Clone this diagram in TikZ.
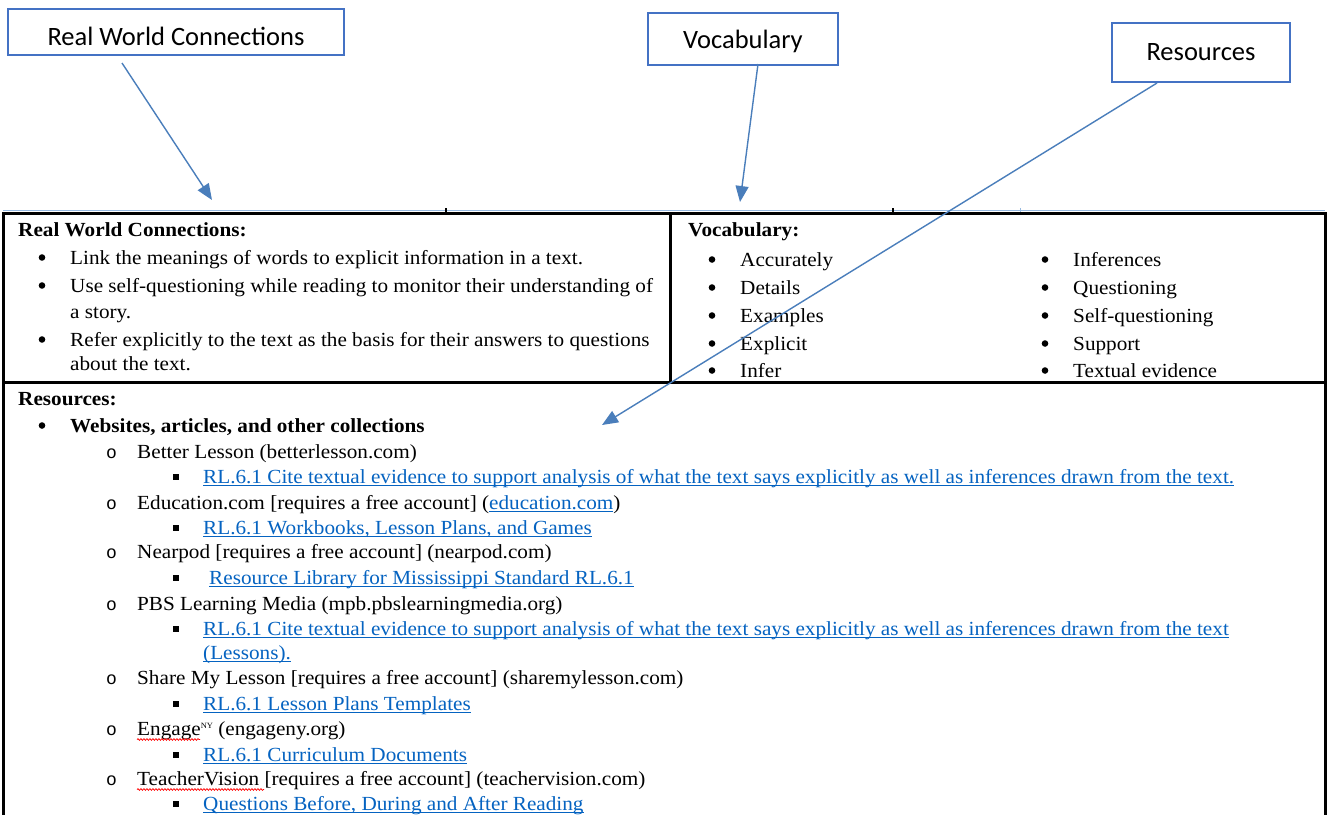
\documentclass[tikz,border=0pt]{standalone}
\usepackage{fontspec}
\setmainfont[FakeStretch=1.06]{Liberation Serif}
\newfontfamily\calfont{Carlito}
\newfontfamily\bulmono{Liberation Mono}
\usetikzlibrary{arrows.meta,decorations.pathmorphing}
\definecolor{boxblue}{RGB}{68,114,196}
\definecolor{arrowblue}{RGB}{74,126,187}
\definecolor{linkblue}{RGB}{5,99,193}
\definecolor{gridblue}{RGB}{150,185,225}
\newcommand\ulink[1]{\setbox0=\hbox{#1}\rlap{\rule[-2.8pt]{\wd0}{1pt}}\box0}
\begin{document}
\begin{tikzpicture}[x=1pt,y=-1pt,
  callout/.style={draw=boxblue,line width=1.2pt,fill=white,inner sep=0pt},
  clabel/.style={inner sep=0pt,font=\calfont\fontsize{26.5}{30}\selectfont},
  conn/.style={draw=arrowblue,line width=1.4pt,-{Triangle[length=16pt,width=13pt]}},
  txt/.style={anchor=base west,inner sep=0pt,font=\fontsize{20}{24}\selectfont},
  btxt/.style={txt,font=\bfseries\fontsize{20}{24}\selectfont},
  link/.style={txt,text=linkblue},
  obul/.style={anchor=base west,inner sep=0pt,font=\bulmono\fontsize{18}{22}\selectfont},
  rule/.style={line width=3pt,black},
  squig/.style={draw=red,line width=0.7pt,decorate,decoration={snake,amplitude=0.9pt,segment length=3pt}}]
\useasboundingbox (0,0) rectangle (1330,815);
\fill[white] (0,0) rectangle (1330,815);

% ---- table frame
\draw[gridblue,line width=0.8pt] (3,210.5) -- (1325,210.5);
\draw[gridblue,line width=0.8pt] (1020,208) -- (1020,213);
\draw[black,line width=2pt] (446,208) -- (446,214);
\draw[black,line width=2pt] (893,208) -- (893,214);
\draw[rule] (3,213.5) -- (1325,213.5);
\draw[rule] (3,212) -- (3,815);
\draw[rule] (1325.5,212) -- (1325.5,815);
\draw[rule] (670,213) -- (670,383);
\draw[rule] (3,382) -- (1325,382);

% ---- Real World Connections cell
\node[btxt] (h1) at (18,236) {Real World Connections:};
\foreach \yy in {264,292,346}{\fill (42,\yy-6.5) circle (3.3pt);}
\node[txt] (l1) at (70,264) {Link the meanings of words to explicit information in a text.};
\node[txt] (l2) at (70,292) {Use self-questioning while reading to monitor their understanding of};
\node[txt] (l2b) at (70,318) {a story.};
\node[txt] (l3) at (70,346) {Refer explicitly to the text as the basis for their answers to questions};
\node[txt] (l3b) at (70,370) {about the text.};

% ---- Vocabulary cell
\node[btxt] (h2) at (688,236) {Vocabulary:};
\foreach \w/\yy [count=\i] in {Accurately/266,Details/294,Examples/322,Explicit/350,Infer/377}{
  \fill (712,\yy-6.5) circle (3.3pt);
  \node[txt] (v\i) at (740,\yy) {\w};
}
\foreach \w/\yy [count=\i] in {Inferences/266,Questioning/294,Self-questioning/322,Support/350,Textual evidence/377}{
  \fill (1045,\yy-6.5) circle (3.3pt);
  \node[txt] (w\i) at (1073,\yy) {\w};
}

% ---- Resources cell
\node[btxt] (h3) at (18,405) {Resources:};
\fill (42,432-6.5) circle (3.3pt);
\node[btxt] (r0) at (70,432) {Websites, articles, and other collections};

\foreach \yy [count=\i] in {458,509,558,610,684,735,785}{
  \node[obul] (ob\i) at (106,\yy) {o};
}
\foreach \yy in {483,534,584,635,710,761,810}{
  \fill (173,\yy-9.5) rectangle (178.5,\yy-3.5);
}

\node[txt] (s1) at (137,458) {Better Lesson (betterlesson.com)};
\node[link] (k1) at (203,483) {\ulink{RL.6.1 Cite textual evidence to support analysis of what the text says explicitly as well as inferences drawn from the text.}};
\node[txt] (s2) at (137,509) {Education.com [requires a free account] (\textcolor{linkblue}{\ulink{education.com}})};
\node[link] (k2) at (203,534) {\ulink{RL.6.1 Workbooks, Lesson Plans, and Games}};
\node[txt] (s3) at (137,558) {Nearpod [requires a free account] (nearpod.com)};
\node[link] (k3) at (209,584) {\ulink{Resource Library for Mississippi Standard RL.6.1}};
\node[txt] (s4) at (137,610) {PBS Learning Media (mpb.pbslearningmedia.org)};
\node[link] (k4) at (203,635) {\ulink{RL.6.1 Cite textual evidence to support analysis of what the text says explicitly as well as inferences drawn from the text}};
\node[link] (k4b) at (203,659) {\ulink{(Lessons).}};
\node[txt] (s5) at (137,684) {Share My Lesson [requires a free account] (sharemylesson.com)};
\node[link] (k5) at (203,710) {\ulink{RL.6.1 Lesson Plans Templates}};
\node[txt] (s6) at (137,735) {Engage\raisebox{6.5pt}{\fontsize{8}{8}\selectfont NY} (engageny.org)};
\node[link] (k6) at (203,761) {\ulink{RL.6.1 Curriculum Documents}};
\node[txt] (s7) at (137,785) {TeacherVision [requires a free account] (teachervision.com)};
\node[link] (k7) at (203,810) {\ulink{Questions Before, During and After Reading}};
\draw[squig] (137,739.5) -- (200,739.5);
\draw[squig] (137,789.5) -- (264,789.5);

% ---- callout boxes
\node[callout,minimum width=336pt,minimum height=46pt] (rwc) at (176,32) {};
\node[clabel] (rwcL) at (176,36.5) {Real World Connections};
\node[callout,minimum width=190pt,minimum height=52pt] (voc) at (743,39) {};
\node[clabel] (vocL) at (743,41) {Vocabulary};
\node[callout,minimum width=178pt,minimum height=59pt] (res) at (1201,52.5) {};
\node[clabel] (resL) at (1201,52) {Resources};

\coordinate (rwcS) at (122,63);
\coordinate (rwcT) at (212,200);
\coordinate (vocS) at (758,64);
\coordinate (vocT) at (740,202);
\coordinate (resS) at (1157,83);
\coordinate (resT) at (602,425);
\draw[conn] (rwcS) -- (rwcT);
\draw[conn] (vocS) -- (vocT);
\draw[conn] (resS) -- (resT);
\end{tikzpicture}
\end{document}
